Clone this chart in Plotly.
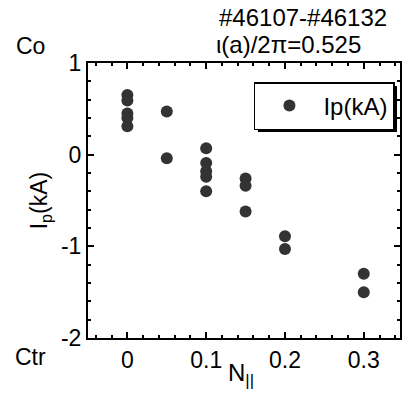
import plotly.graph_objects as go

# data
n_par = [0, 0, 0, 0, 0,
         0.05, 0.05,
         0.1, 0.1, 0.1, 0.1, 0.1,
         0.15, 0.15, 0.15,
         0.2, 0.2,
         0.3, 0.3]
ip_ka = [0.65, 0.59, 0.45, 0.40, 0.31,
         0.47, -0.04,
         0.07, -0.09, -0.18, -0.24, -0.40,
         -0.26, -0.34, -0.62,
         -0.89, -1.03,
         -1.30, -1.50]
x_ticks = [0, 0.1, 0.2, 0.3]
x_ticklabels = ["0", "0.1", "0.2", "0.3"]
y_ticks = [-2, -1, 0, 1]
y_ticklabels = ["-2", "-1", "0", "1"]

W, H = 403, 394
L, R, T, B = 88, 1, 63, 56
pw, ph = W - L - R, H - T - B

def px(x):
    return (x - L) / pw

def py(y):
    return (H - B - y) / ph

FONT = "Liberation Sans, Arial, sans-serif"
DOT = "#333333"

fig = go.Figure()
fig.add_trace(go.Scatter(
    x=n_par, y=ip_ka, mode="markers", name="Ip(kA)",
    marker=dict(size=12, color=DOT),
))

axis_common = dict(
    showline=True, linecolor="black", linewidth=2, mirror="allticks",
    ticks="inside", ticklen=6, tickwidth=2, tickcolor="black",
    showgrid=False, zeroline=False,
    tickfont=dict(family=FONT, size=23, color="black"),
)
fig.update_xaxes(range=[-0.05, 0.346], tickvals=x_ticks, ticktext=x_ticklabels,
                 minor=dict(dtick=0.02, ticks="inside", ticklen=3, tickwidth=1.5, tickcolor="black", tick0=0),
                 **axis_common)
fig.update_yaxes(range=[-2, 1], tickvals=y_ticks, ticktext=y_ticklabels,
                 minor=dict(dtick=0.2, ticks="inside", ticklen=3, tickwidth=1.5, tickcolor="black", tick0=0),
                 **axis_common)

# legend shadow
fig.add_shape(type="rect", xref="paper", yref="paper",
              x0=px(259), x1=px(399), y0=py(132), y1=py(86),
              fillcolor="black", line=dict(width=0), layer="above")

ann = [
    ("#46107-#46132", 304, 17, 0, 24),
    ("\u03b9(a)/2\u03c0=0.525", 290, 44, 0, 24),
    ("Co", 30, 46, 0, 23),
    ("Ctr", 30, 357, 0, 23),
    ("N<sub>||</sub>", 242, 374, 0, 24),
    ("I<sub>p</sub>(kA)", 40, 200, -90, 23),
]
for text, x, y, ang, fs in ann:
    fig.add_annotation(text=text, x=px(x), y=py(y), xref="paper", yref="paper",
                       xanchor="center", yanchor="middle", showarrow=False,
                       textangle=ang, font=dict(family=FONT, size=fs, color="black"))

fig.update_layout(
    width=W, height=H,
    margin=dict(l=L, r=R, t=T, b=B),
    paper_bgcolor="white", plot_bgcolor="white",
    showlegend=True,
    legend=dict(x=px(255), y=py(82), xanchor="left", yanchor="top",
                bgcolor="white", bordercolor="black", borderwidth=1.5,
                itemwidth=58,
                font=dict(family=FONT, size=24, color="black")),
)

fig.write_html("out.html")
